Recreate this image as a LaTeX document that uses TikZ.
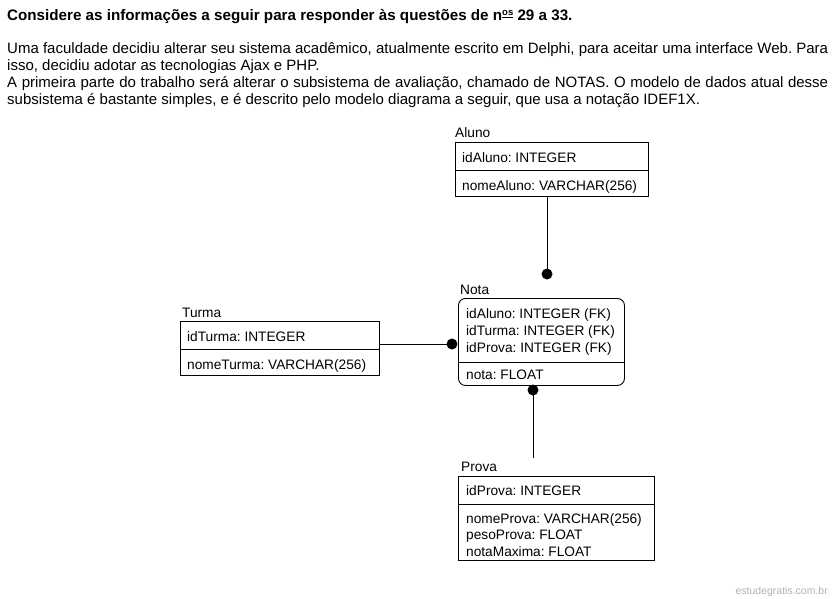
\documentclass[tikz,border=0pt]{standalone}
\usepackage{fontspec}
\setmainfont{Liberation Sans}
\frenchspacing
\tikzset{
  ent/.style={draw, line width=0.9pt, inner sep=0pt, anchor=north west},
  lbl/.style={anchor=base west, inner sep=0pt, font=\fontsize{13.7}{16}\selectfont},
  fld/.style={anchor=base west, inner sep=0pt, font=\fontsize{13.7}{16}\selectfont},
  dotn/.style={circle, fill=black, minimum size=11pt, inner sep=0pt},
  conn/.style={line width=0.9pt},
  para/.style={anchor=base west, inner sep=0pt, font=\fontsize{15}{17}\selectfont},
}
\begin{document}
\begin{tikzpicture}[x=1pt,y=-1pt]
\useasboundingbox (0,0) rectangle (833,598);
\fill[white] (0,0) rectangle (833,598);
% header
\node[para, font=\fontsize{15.2}{17}\selectfont\bfseries] (title) at (7,20)
  {Considere as informações a seguir para responder às questões de n\raisebox{0.55ex}{\fontsize{9.5}{9}\selectfont\underline{os}} 29 a 33.};
\node[para] (p1) at (7,53) {\makebox[821pt][s]{Uma faculdade decidiu alterar seu sistema acadêmico, atualmente escrito em Delphi, para aceitar uma interface Web. Para}};
\node[para] (p2) at (7,70) {isso, decidiu adotar as tecnologias Ajax e PHP.};
\node[para] (p3) at (7,87) {\makebox[821pt][s]{A primeira parte do trabalho será alterar o subsistema de avaliação, chamado de NOTAS. O modelo de dados atual desse}};
\node[para] (p4) at (7,104) {subsistema é bastante simples, e é descrito pelo modelo diagrama a seguir, que usa a notação IDEF1X.};

% Aluno
\node[lbl] (alunoL) at (455,137) {Aluno};
\node[ent, minimum width=193pt, minimum height=54pt] (aluno) at (455,142) {};
\draw[conn] (455,170) -- (648,170);
\node[fld] (a1) at (462,162) {idAluno: INTEGER};
\node[fld] (a2) at (462,190) {nomeAluno: VARCHAR(256)};

% Nota
\node[lbl] (notaL) at (460,294) {Nota};
\node[ent, rounded corners=7pt, minimum width=166pt, minimum height=87pt] (nota) at (458,298) {};
\draw[conn] (458,362) -- (624,362);
\node[fld] (n1) at (466,318) {idAluno: INTEGER (FK)};
\node[fld] (n2) at (466,335) {idTurma: INTEGER (FK)};
\node[fld] (n3) at (466,352) {idProva: INTEGER (FK)};
\node[fld] (n4) at (466,379) {nota: FLOAT};

% Turma
\node[lbl] (turmaL) at (182,317) {Turma};
\node[ent, minimum width=199pt, minimum height=54pt] (turma) at (180,321) {};
\draw[conn] (180,349) -- (379,349);
\node[fld] (t1) at (187,341) {idTurma: INTEGER};
\node[fld] (t2) at (187,369) {nomeTurma: VARCHAR(256)};

% Prova
\node[lbl] (provaL) at (461,471) {Prova};
\node[ent, minimum width=196pt, minimum height=84pt] (prova) at (458,476) {};
\draw[conn] (458,504) -- (654,504);
\node[fld] (r1) at (466,495) {idProva: INTEGER};
\node[fld] (r2) at (466,523) {nomeProva: VARCHAR(256)};
\node[fld] (r3) at (466,539) {pesoProva: FLOAT};
\node[fld] (r4) at (466,556) {notaMaxima: FLOAT};

% relationships
\node[dotn] (dA) at (547,274) {};
\draw[conn] (dA |- aluno.south) -- (dA.center);
\node[dotn] (dT) at (452,344) {};
\draw[conn] (turma.east |- dT) -- (dT.center);
\node[dotn] (dP) at (533,390) {};
\coordinate (pEnd) at (533,458);
\draw[conn] (dP.center) -- (pEnd);

% watermark
\node[anchor=base east, inner sep=0pt, text=black!30, font=\fontsize{10.5}{12}\selectfont] (wm) at (828,594) {estudegratis.com.br};
\end{tikzpicture}
\end{document}
